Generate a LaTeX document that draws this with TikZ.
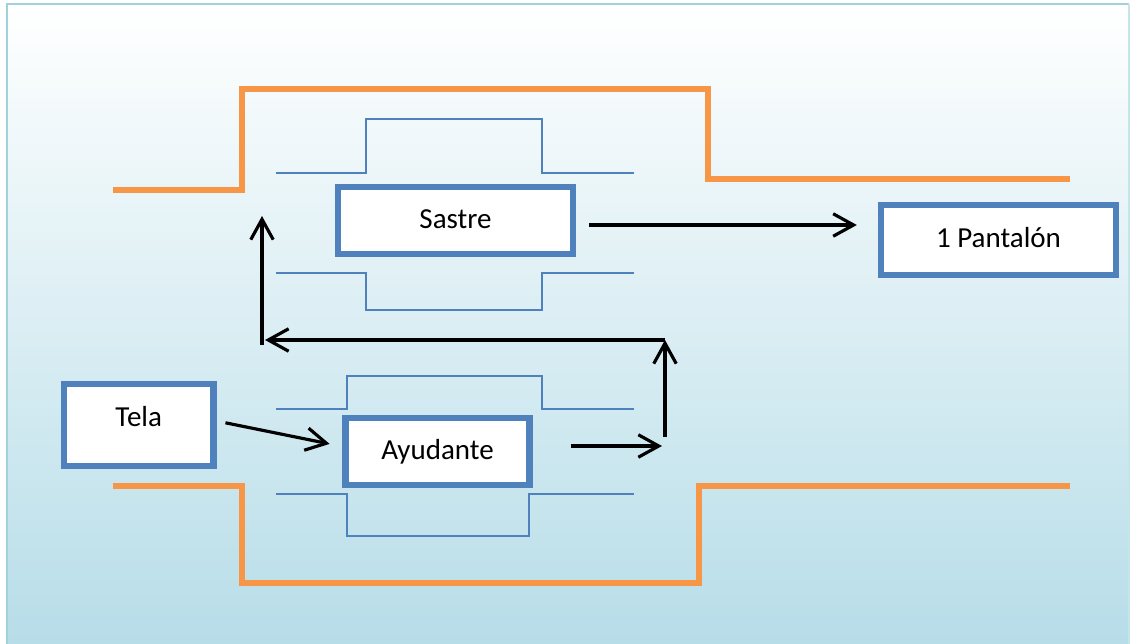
\documentclass[tikz,border=0pt]{standalone}
\usepackage{fontspec}
\setmainfont{Carlito}
\usetikzlibrary{arrows.meta}
\definecolor{naranja}{RGB}{247,150,70}
\definecolor{azul}{RGB}{79,129,189}
\definecolor{marco}{RGB}{160,210,222}
\definecolor{fondo}{RGB}{183,221,232}
\tikzset{
	caja/.style={draw=azul,line width=1.8pt,fill=white,inner sep=0pt,
		text height=0.7em,text depth=0.25em,minimum height=0.67cm},
	tubo/.style={azul,line width=0.6pt},
	borde/.style={naranja,line width=1.7pt},
	flecha/.style={->,line width=0.9pt}
}
\begin{document}
\begin{tikzpicture}[>={Straight Barb[length=5.8pt,width=6.4pt]},font=\fontsize{8.25}{10}\selectfont]
	\useasboundingbox (0,0) rectangle (11.31,6.43);
	% fondo y marco
	\shade[top color=white,bottom color=fondo] (0.07,0) rectangle (11.29,6.39);
	\draw[marco,line width=0.85pt] (0.07,-0.1)--(0.07,6.39)--(11.29,6.39);
	\draw[marco!60,line width=0.5pt] (11.29,6.39)--(11.29,-0.1);
	% paredes naranjas
	\draw[borde] (1.13,4.53)--(2.42,4.53)--(2.42,5.54)--(7.08,5.54)--(7.08,4.64)--(10.70,4.64);
	\draw[borde] (1.13,1.57)--(2.42,1.57)--(2.42,0.60)--(6.99,0.60)--(6.99,1.57)--(10.70,1.57);
	% canales azules
	\draw[tubo] (2.76,4.70)--(3.66,4.70)--(3.66,5.24)--(5.42,5.24)--(5.42,4.70)--(6.34,4.70);
	\draw[tubo] (2.76,3.70)--(3.66,3.70)--(3.66,3.33)--(5.42,3.33)--(5.42,3.70)--(6.34,3.70);
	\draw[tubo] (2.76,2.34)--(3.47,2.34)--(3.47,2.67)--(5.42,2.67)--(5.42,2.34)--(6.34,2.34);
	\draw[tubo] (2.76,1.49)--(3.47,1.49)--(3.47,1.07)--(5.29,1.07)--(5.29,1.49)--(6.34,1.49);
	% cajas
	\node[caja,minimum width=2.35cm] (sastre) at (4.555,4.225) {Sastre};
	\node[caja,minimum width=1.84cm] (ayudante) at (4.375,1.915) {Ayudante};
	\node[caja,minimum width=1.495cm,minimum height=0.82cm,text depth=0.6em] (tela) at (1.3875,2.18) {Tela};
	\node[caja,minimum width=2.35cm,minimum height=0.70cm] (pantalon) at (9.985,4.03) {1 Pantalón};
	% flechas
	\coordinate (sube1) at (6.65,2.06);
	\coordinate (sube2) at (6.65,3.03);
	\coordinate (vuelve1) at (2.65,3.03);
	\coordinate (vuelve2) at (2.62,2.98);
	\coordinate (vuelve3) at (2.62,4.27);
	\draw[flecha,shorten <=0.13cm,shorten >=0.21cm] ([yshift=-0.045cm]sastre.east)--([yshift=-0.045cm]sastre.east -| pantalon.west);
	\draw[flecha,shorten <=0.09cm,shorten >=0.13cm] ([yshift=0.04cm]tela.east)--([yshift=0.05cm]ayudante.west);
	\draw[flecha,shorten <=0.38cm,shorten >=0.03cm] ([yshift=0.055cm]ayudante.east)--([yshift=0.055cm]ayudante.east -| sube1);
	\draw[flecha] (sube1)--(sube2);
	\draw[flecha] (sube2)--(vuelve1);
	\draw[flecha] (vuelve2)--(vuelve3);
\end{tikzpicture}
\end{document}
